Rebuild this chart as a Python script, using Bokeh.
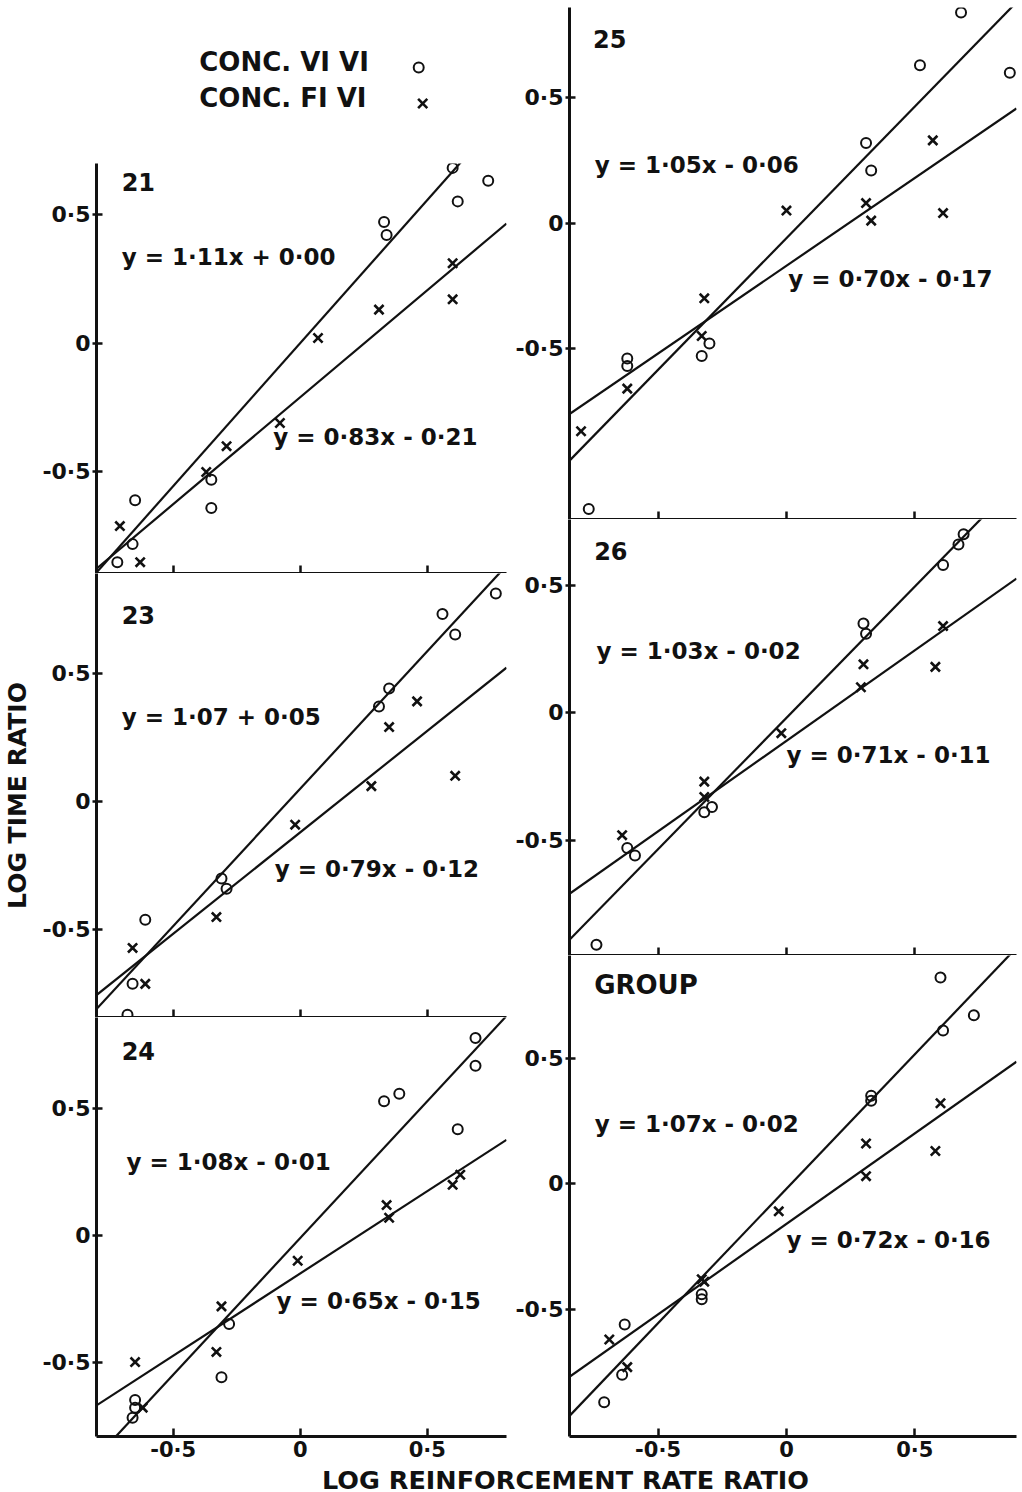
from bokeh.plotting import figure
from bokeh.layouts import row, column
from bokeh.models import Range1d, FixedTicker, CustomJSTickFormatter, Label
from bokeh.embed import file_html
from bokeh.resources import INLINE

FONT = "DejaVu Sans"
INK = "#111111"

# ---------------- data ----------------
PANEL_NAMES = ["21", "23", "24", "25", "26", "GROUP"]

# CONC. VI VI (circles)
VI_X = [
    [0.60, 0.74, 0.62, 0.33, 0.34, -0.65, -0.35, -0.35, -0.66, -0.72],
    [0.77, 0.56, 0.61, 0.35, 0.31, -0.31, -0.29, -0.61, -0.66, -0.68],
    [0.69, 0.69, 0.33, 0.39, 0.62, -0.28, -0.31, -0.65, -0.65, -0.66],
    [0.68, 0.52, 0.87, 0.31, 0.33, -0.62, -0.62, -0.33, -0.30, -0.77],
    [0.69, 0.67, 0.61, 0.30, 0.31, -0.32, -0.29, -0.62, -0.59, -0.74],
    [0.60, 0.73, 0.61, 0.33, 0.33, -0.33, -0.33, -0.63, -0.64, -0.71],
]
VI_Y = [
    [0.68, 0.63, 0.55, 0.47, 0.42, -0.61, -0.53, -0.64, -0.78, -0.85],
    [0.81, 0.73, 0.65, 0.44, 0.37, -0.30, -0.34, -0.46, -0.71, -0.83],
    [0.78, 0.67, 0.53, 0.56, 0.42, -0.35, -0.56, -0.65, -0.68, -0.72],
    [0.84, 0.63, 0.60, 0.32, 0.21, -0.54, -0.57, -0.53, -0.48, -1.14],
    [0.70, 0.66, 0.58, 0.35, 0.31, -0.39, -0.37, -0.53, -0.56, -0.91],
    [0.82, 0.67, 0.61, 0.35, 0.33, -0.44, -0.46, -0.56, -0.76, -0.87],
]
# CONC. FI VI (crosses)
FI_X = [
    [-0.71, -0.63, -0.37, -0.29, -0.08, 0.07, 0.31, 0.60, 0.60],
    [0.46, 0.35, 0.61, 0.28, -0.02, -0.33, -0.66, -0.61],
    [0.60, 0.63, 0.34, 0.35, -0.01, -0.31, -0.33, -0.65, -0.62],
    [0.57, 0.31, 0.33, 0.61, 0.00, -0.32, -0.33, -0.62, -0.80],
    [0.61, 0.30, 0.29, 0.58, -0.02, -0.32, -0.32, -0.64],
    [0.60, 0.31, 0.31, 0.58, -0.03, -0.33, -0.32, -0.69, -0.62],
]
FI_Y = [
    [-0.71, -0.85, -0.50, -0.40, -0.31, 0.02, 0.13, 0.31, 0.17],
    [0.39, 0.29, 0.10, 0.06, -0.09, -0.45, -0.57, -0.71],
    [0.20, 0.24, 0.12, 0.07, -0.10, -0.28, -0.46, -0.50, -0.68],
    [0.33, 0.08, 0.01, 0.04, 0.05, -0.30, -0.45, -0.66, -0.83],
    [0.34, 0.19, 0.10, 0.18, -0.08, -0.27, -0.33, -0.48],
    [0.32, 0.16, 0.03, 0.13, -0.11, -0.38, -0.39, -0.62, -0.73],
]

VI_SLOPE = [1.11, 1.07, 1.08, 1.05, 1.03, 1.07]
VI_INTERCEPT = [0.00, 0.05, -0.01, -0.06, -0.02, -0.02]
FI_SLOPE = [0.83, 0.79, 0.65, 0.70, 0.71, 0.72]
FI_INTERCEPT = [-0.21, -0.12, -0.15, -0.17, -0.11, -0.16]

VI_EQ = ["y = 1·11x + 0·00", "y = 1·07 + 0·05", "y = 1·08x - 0·01",
         "y = 1·05x - 0·06", "y = 1·03x - 0·02", "y = 1·07x  - 0·02"]
FI_EQ = ["y = 0·83x - 0·21", "y = 0·79x - 0·12", "y = 0·65x - 0·15",
         "y = 0·70x - 0·17", "y = 0·71x - 0·11", "y = 0·72x - 0·16"]

X_TICKS = [-0.5, 0, 0.5]
Y_TICKS = [-0.5, 0, 0.5]
LEGEND_LABELS = ["CONC. VI VI", "CONC. FI VI"]
X_TITLE = "LOG REINFORCEMENT RATE RATIO"
Y_TITLE = "LOG TIME RATIO"

# ---------------- layout (pixels / ranges) ----------------
LEFT_X = (-0.802, 0.812)     # frame 410 px
RIGHT_X = (-0.845, 0.896)    # frame 447 px
LAYOUT = [
    dict(yr=(-0.894, 0.697), fh=410, top=0, name=(-0.703, 0.624), e1=(-0.703, 0.334), e2=(-0.106, -0.365)),
    dict(yr=(-0.841, 0.888), fh=444, top=0, name=(-0.703, 0.725), e1=(-0.703, 0.328), e2=(-0.100, -0.262)),
    dict(yr=(-0.794, 0.861), fh=419, top=0, name=(-0.703, 0.728), e1=(-0.684, 0.289), e2=(-0.093, -0.257)),
    dict(yr=(-1.182, 0.860), fh=512, top=7, name=(-0.753, 0.733), e1=(-0.747, 0.230), e2=(0.007, -0.222)),
    dict(yr=(-0.952, 0.758), fh=436, top=0, name=(-0.749, 0.636), e1=(-0.740, 0.244), e2=(0.000, -0.167)),
    dict(yr=(-1.006, 0.908), fh=481, top=0, name=(-0.749, 0.792), e1=(-0.747, 0.239), e2=(0.000, -0.226)),
]
L_BORDER, L_FRAME, L_RIGHT = 95, 410, 6
R_BORDER, R_FRAME, R_RIGHT = 57, 447, 5
BOTTOM_BORDER = 26
FRAME_BOTTOM = 1436
PAGE_H = 1492
TOTAL_W = L_BORDER + L_FRAME + L_RIGHT + R_BORDER + R_FRAME + R_RIGHT

CROSS_SIZE = 13
CIRCLE_SIZE = 10

fmt = CustomJSTickFormatter(code="""
if (Math.abs(tick) < 1e-9) { return "0"; }
return tick.toFixed(1).replace(".", "\u00b7");
""")


def txt(x, y, s, size, align="left"):
    return Label(x=x, y=y, text=s, text_font=FONT, text_font_size=size,
                 text_font_style="bold", text_color=INK, text_align=align,
                 text_baseline="middle")


def make_panel(i, left):
    lay = LAYOUT[i]
    xr = LEFT_X if left else RIGHT_X
    bottom = i in (2, 5)
    p = figure(frame_width=L_FRAME if left else R_FRAME, frame_height=lay["fh"],
               x_range=Range1d(*xr), y_range=Range1d(*lay["yr"]),
               output_backend="svg", toolbar_location=None, tools="",
               min_border_left=L_BORDER if left else R_BORDER,
               min_border_right=L_RIGHT if left else R_RIGHT,
               min_border_top=lay["top"],
               min_border_bottom=BOTTOM_BORDER if bottom else 0)
    p.outline_line_color = None
    p.xgrid.visible = False
    p.ygrid.visible = False
    p.background_fill_color = "white"
    p.border_fill_color = "white"

    ya = p.yaxis[0]
    ya.ticker = FixedTicker(ticks=Y_TICKS)
    ya.formatter = fmt
    ya.axis_line_width = 3
    ya.axis_line_color = INK
    ya.major_tick_line_width = 2.5
    ya.major_tick_line_color = INK
    ya.major_tick_in = 6
    ya.major_tick_out = 4
    ya.minor_tick_line_color = None
    ya.major_label_text_font = FONT
    ya.major_label_text_font_size = "22px"
    ya.major_label_text_font_style = "bold"
    ya.major_label_text_color = INK
    ya.major_label_standoff = 2

    xa = p.xaxis[0]
    xa.ticker = FixedTicker(ticks=X_TICKS)
    xa.formatter = fmt
    xa.axis_line_width = 3
    xa.axis_line_color = INK
    xa.major_tick_line_width = 2.5
    xa.major_tick_line_color = INK
    xa.major_tick_in = 8
    xa.major_tick_out = 0
    xa.minor_tick_line_color = None
    xa.major_label_text_font = FONT
    xa.major_label_text_font_style = "bold"
    if bottom:
        xa.major_label_text_font_size = "21px"
        xa.major_label_text_color = INK
        xa.major_label_standoff = 1
    else:
        xa.major_label_text_font_size = "0px"
        xa.major_label_text_color = None
        xa.major_label_standoff = 0

    xs = [xr[0], xr[1]]
    p.line(xs, [VI_SLOPE[i] * x + VI_INTERCEPT[i] for x in xs], line_color=INK, line_width=2.2)
    p.line(xs, [FI_SLOPE[i] * x + FI_INTERCEPT[i] for x in xs], line_color=INK, line_width=2.2)
    p.scatter(VI_X[i], VI_Y[i], marker="circle", size=CIRCLE_SIZE, fill_color=None,
              line_color=INK, line_width=2)
    p.scatter(FI_X[i], FI_Y[i], marker="x", size=CROSS_SIZE, line_color=INK, line_width=2.6)

    name_size = "26px" if PANEL_NAMES[i] == "GROUP" else "24px"
    p.add_layout(txt(*lay["name"], PANEL_NAMES[i], name_size))
    p.add_layout(txt(*lay["e1"], VI_EQ[i], "23px"))
    p.add_layout(txt(*lay["e2"], FI_EQ[i], "23px"))
    return p


def blank(w, h, xr, yr, bl=0, br=0):
    p = figure(width=w, height=h, x_range=Range1d(*xr), y_range=Range1d(*yr),
               output_backend="svg", toolbar_location=None, tools="",
               x_axis_location=None, y_axis_location=None,
               min_border=0, min_border_left=bl, min_border_right=br,
               min_border_top=0, min_border_bottom=0)
    p.outline_line_color = None
    p.xgrid.visible = False
    p.ygrid.visible = False
    p.background_fill_color = "white"
    p.border_fill_color = "white"
    return p


# header with the key (page-pixel coordinates, frame aligned with the panels)
head = blank(L_BORDER + L_FRAME + L_RIGHT, 163, (L_BORDER, L_BORDER + L_FRAME), (163, 0),
             bl=L_BORDER, br=L_RIGHT)
head.add_layout(txt(198, 61.5, LEGEND_LABELS[0], "26px"))
head.add_layout(txt(198, 97, LEGEND_LABELS[1], "26px"))
head.scatter([418], [67], marker="circle", size=CIRCLE_SIZE, fill_color=None, line_color=INK, line_width=2)
head.scatter([422], [103], marker="x", size=CROSS_SIZE, line_color=INK, line_width=2.6)

panels = [make_panel(i, i < 3) for i in range(6)]

# y title on the middle left panel
ya23 = panels[1].yaxis[0]
ya23.axis_label = Y_TITLE
ya23.axis_label_text_font = FONT
ya23.axis_label_text_font_size = "25px"
ya23.axis_label_text_font_style = "bold"
ya23.axis_label_text_color = INK
ya23.axis_label_standoff = 7

foot_top = FRAME_BOTTOM + BOTTOM_BORDER
foot_h = PAGE_H - foot_top
foot = blank(TOTAL_W, foot_h, (0, TOTAL_W), (PAGE_H, foot_top))
foot.add_layout(txt(565, foot_top + foot_h / 2, X_TITLE, "25.5px", align="center"))

left_col = column(head, panels[0], panels[1], panels[2], spacing=0)
right_col = column(panels[3], panels[4], panels[5], spacing=0)
layout = column(row(left_col, right_col, spacing=0), foot, spacing=0)

open("out.html", "w").write(file_html(layout, INLINE))
